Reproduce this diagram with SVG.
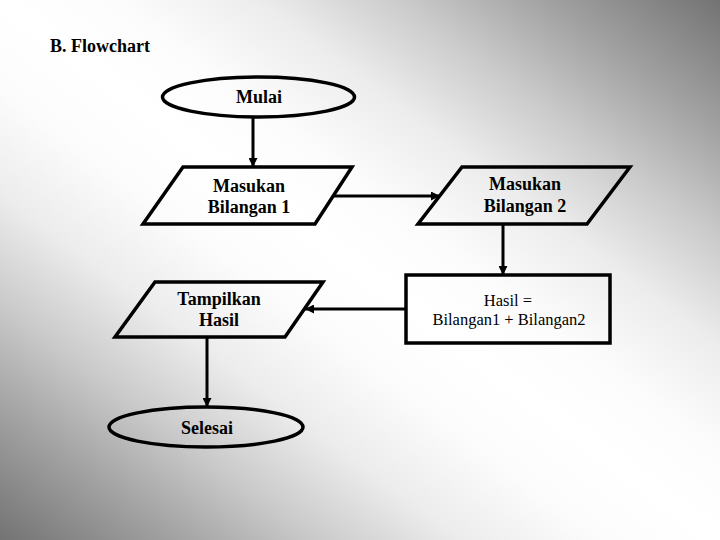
<svg xmlns="http://www.w3.org/2000/svg" width="720" height="540" viewBox="0 0 720 540">
  <defs>
    <linearGradient id="bg" x1="0" y1="1" x2="1" y2="0">
      <stop offset="0" stop-color="#737373"/>
      <stop offset="0.13" stop-color="#a5a5a5"/>
      <stop offset="0.22" stop-color="#cacaca"/>
      <stop offset="0.32" stop-color="#ececec"/>
      <stop offset="0.42" stop-color="#fcfcfc"/>
      <stop offset="0.5" stop-color="#ffffff"/>
      <stop offset="0.58" stop-color="#fcfcfc"/>
      <stop offset="0.68" stop-color="#ececec"/>
      <stop offset="0.78" stop-color="#cacaca"/>
      <stop offset="0.87" stop-color="#a5a5a5"/>
      <stop offset="1" stop-color="#737373"/>
    </linearGradient>
    <marker id="arrow" viewBox="0 0 10 10" refX="10" refY="5" markerWidth="9" markerHeight="9" markerUnits="userSpaceOnUse" orient="auto">
      <path d="M0,0 L10,5 L0,10 Z" fill="#000"/>
    </marker>
  </defs>
  <style>
    .shape { fill: none; stroke: #000; stroke-width: 3.5; }
    .conn { fill: none; stroke: #000; stroke-width: 3; marker-end: url(#arrow); }
    .lbl { font-family: "Liberation Serif", "Times New Roman", serif; font-weight: bold; font-size: 18px; fill: #000; text-anchor: middle; }
    .lblr { font-family: "Liberation Serif", "Times New Roman", serif; font-size: 16.5px; fill: #000; text-anchor: middle; }
  </style>
  <rect x="0" y="0" width="720" height="540" fill="url(#bg)"/>
  <text x="50" y="52" font-family="Liberation Serif, Times New Roman, serif" font-weight="bold" font-size="18" fill="#000">B. Flowchart</text>

  <g id="connectors">
    <line class="conn" x1="253" y1="117" x2="253" y2="167"/>
    <line class="conn" x1="333" y1="196" x2="440" y2="196"/>
    <line class="conn" x1="503" y1="224" x2="503" y2="275"/>
    <line class="conn" x1="406" y1="309" x2="305" y2="309"/>
    <line class="conn" x1="207" y1="337" x2="207" y2="407"/>
  </g>

  <g id="mulai">
    <ellipse class="shape" cx="258.5" cy="97" rx="96" ry="20"/>
    <text class="lbl" x="259" y="103">Mulai</text>
  </g>
  <g id="masukan1">
    <polygon class="shape" points="183,167 352,167 315,224 143,224"/>
    <text class="lbl" x="249" y="192">Masukan</text>
    <text class="lbl" x="249" y="213">Bilangan 1</text>
  </g>
  <g id="masukan2">
    <polygon class="shape" points="462,167 630,167 587,224 418,224"/>
    <text class="lbl" x="525" y="190">Masukan</text>
    <text class="lbl" x="525" y="212">Bilangan 2</text>
  </g>
  <g id="hasil">
    <rect class="shape" x="406" y="275" width="204" height="68"/>
    <text class="lblr" x="508" y="306">Hasil =</text>
    <text class="lblr" x="509" y="325">Bilangan1 + Bilangan2</text>
  </g>
  <g id="tampilkan">
    <polygon class="shape" points="155,282 323,282 285,337 115,337"/>
    <text class="lbl" x="219" y="305">Tampilkan</text>
    <text class="lbl" x="219" y="326">Hasil</text>
  </g>
  <g id="selesai">
    <ellipse class="shape" cx="206" cy="427" rx="97" ry="20"/>
    <text class="lbl" x="207" y="434">Selesai</text>
  </g>
</svg>
